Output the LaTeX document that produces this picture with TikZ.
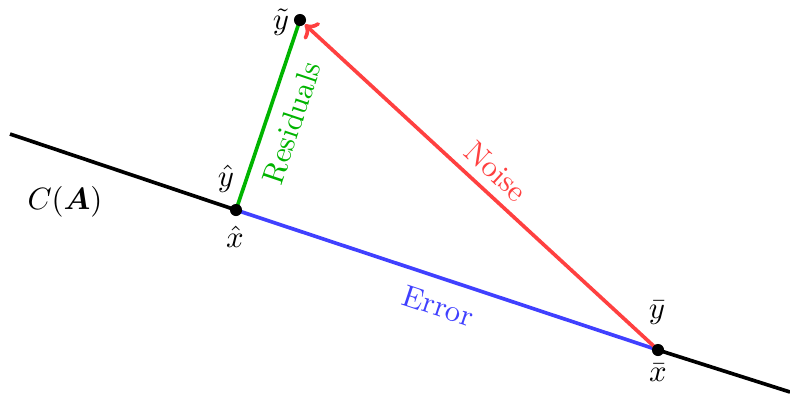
\documentclass[tikz,border=0pt]{standalone}
\usepackage{amsmath}
\usepackage{bm}
\usetikzlibrary{arrows.meta,backgrounds}
\definecolor{resgreen}{RGB}{0,180,0}
\definecolor{noisered}{RGB}{255,64,64}
\definecolor{errblue}{RGB}{64,64,255}
\tikzset{
  dot/.style={circle,fill=black,inner sep=0pt,minimum size=4.3pt},
  lbl/.style={inner sep=1pt},
  seg/.style={line width=1.3pt},
}
\begin{document}
\begin{tikzpicture}[x=0.0125cm,y=-0.0125cm,font=\fontsize{10.9}{13}\selectfont]
\useasboundingbox (0,0) rectangle (790,401);
% points
\node[dot] (xh) at (236,210) {};
\node[dot] (xb) at (658,350) {};
\node[dot] (yt) at (300,20) {};
\coordinate (L) at (10,134);
\coordinate (R) at (790,392);
% labels
\node[lbl] (lyh) at (226,179) {$\hat{y}$};
\node[lbl] (lxh) at (235,237) {$\hat{x}$};
\node[lbl] (lyt) at (281,22) {$\tilde{y}$};
\node[lbl] (lyb) at (657,313) {$\bar{y}$};
\node[lbl] (lxb) at (658,373) {$\bar{x}$};
\node[lbl] (lca) at (65,202) {$C(\bm{A})$};
\begin{scope}[on background layer]
\draw[seg,black] (L) -- (xh.center);
\draw[seg,black] (xb.center) -- (R);
\draw[seg,resgreen] (xh.center) -- node[midway,sloped,below,text=resgreen,yshift=-1pt] (tres) {Residuals} (yt.center);
\draw[seg,errblue] (xh.center) -- node[midway,sloped,below,text=errblue,yshift=-2pt] (terr) {Error} (xb.center);
\draw[seg,noisered,-{To[length=4pt,width=8pt]}] (xb.center) -- node[midway,sloped,above,text=noisered] (tnoise) {Noise} (yt);
\end{scope}
\end{tikzpicture}
\end{document}
